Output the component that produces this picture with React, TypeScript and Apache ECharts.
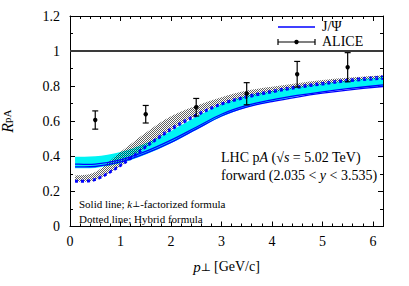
import React, { useEffect, useRef } from "react";
import * as echarts from "echarts";

// ---- data ----
const bandX = [0.1, 0.5, 1.0, 1.5, 2.0, 2.5, 3.0, 3.5, 4.0, 4.5, 5.0, 5.5, 6.2];
// k_perp-factorized (cyan band)
const cyanLow = [0.332, 0.334, 0.36, 0.41, 0.474, 0.55, 0.625, 0.678, 0.713, 0.743, 0.765, 0.785, 0.8];
const cyanHigh = [0.398, 0.4, 0.425, 0.475, 0.545, 0.625, 0.697, 0.745, 0.772, 0.796, 0.815, 0.832, 0.852];
const solidA = [0.356, 0.356, 0.38, 0.428, 0.492, 0.566, 0.64, 0.69, 0.722, 0.747, 0.768, 0.786, 0.807];
const solidB = [0.34, 0.342, 0.368, 0.417, 0.48, 0.555, 0.63, 0.68, 0.712, 0.738, 0.76, 0.778, 0.798];
// hybrid (hatched band)
const hatchLow = [0.255, 0.265, 0.345, 0.45, 0.55, 0.63, 0.695, 0.735, 0.765, 0.79, 0.81, 0.828, 0.845];
const hatchHigh = [0.29, 0.31, 0.425, 0.535, 0.628, 0.688, 0.737, 0.775, 0.797, 0.817, 0.835, 0.848, 0.862];
const dashA = [0.255, 0.265, 0.345, 0.45, 0.55, 0.63, 0.695, 0.735, 0.765, 0.79, 0.81, 0.828, 0.842];
const dashB = [0.262, 0.272, 0.353, 0.46, 0.56, 0.64, 0.703, 0.745, 0.775, 0.8, 0.82, 0.838, 0.857];
// ALICE data
const aliceX = [0.5, 1.5, 2.5, 3.5, 4.5, 5.5];
const aliceY = [0.607, 0.64, 0.68, 0.757, 0.868, 0.908];
const aliceErr = [0.052, 0.05, 0.05, 0.063, 0.073, 0.083];
// axes
const xMin = 0, xMax = 6.2, xStep = 1;
const yMin = 0, yMax = 1.2, yStep = 0.2;
const refLine = 1;

const FONT = "Liberation Serif, DejaVu Serif, serif";

// Catmull-Rom -> cubic bezier path through screen points
function curvePath(pts: number[][], move: boolean) {
  let d = move ? `M${pts[0][0]},${pts[0][1]}` : `L${pts[0][0]},${pts[0][1]}`;
  for (let i = 0; i < pts.length - 1; i++) {
    const p0 = pts[i - 1] || pts[i];
    const p1 = pts[i];
    const p2 = pts[i + 1];
    const p3 = pts[i + 2] || p2;
    const c1x = p1[0] + (p2[0] - p0[0]) / 6;
    const c1y = p1[1] + (p2[1] - p0[1]) / 6;
    const c2x = p2[0] - (p3[0] - p1[0]) / 6;
    const c2y = p2[1] - (p3[1] - p1[1]) / 6;
    d += `C${c1x},${c1y},${c2x},${c2y},${p2[0]},${p2[1]}`;
  }
  return d;
}

function bandSeries(lo: number[], hi: number[], style: any, z: number) {
  return {
    type: "custom",
    data: [[bandX[0], lo[0]]],
    clip: true,
    z,
    renderItem: (_p: any, api: any) => {
      const up = bandX.map((x, i) => api.coord([x, hi[i]]));
      const dn = bandX.map((x, i) => api.coord([x, lo[i]])).reverse();
      const d = curvePath(up, true) + curvePath(dn, false) + "Z";
      return { type: "path", shape: { pathData: d }, style };
    },
  };
}

function lineSeries(ys: number[], style: any, z: number) {
  return {
    type: "custom",
    data: [[bandX[0], ys[0]]],
    clip: true,
    z,
    renderItem: (_p: any, api: any) => {
      const pts = bandX.map((x, i) => api.coord([x, ys[i]]));
      return { type: "path", shape: { pathData: curvePath(pts, true) }, style: { fill: "none", ...style } };
    },
  };
}

function makePattern() {
  const c = document.createElement("canvas");
  c.width = 2;
  c.height = 2;
  const ctx = c.getContext("2d")!;
  ctx.clearRect(0, 0, 2, 2);
  ctx.fillStyle = "rgba(0,0,0,0.62)";
  ctx.fillRect(0, 0, 1, 1);
  ctx.fillRect(1, 1, 1, 1);
  ctx.fillStyle = "rgba(255,255,255,0.35)";
  ctx.fillRect(1, 0, 1, 1);
  return c;
}

export default function App() {
  const ref = useRef<HTMLDivElement>(null);
  useEffect(() => {
    if (!ref.current) return;
    const chart = echarts.init(ref.current, null, { renderer: "svg" });
    const pattern = makePattern();
    const axisCommon = {
      axisLine: { show: true, onZero: false, lineStyle: { color: "#000", width: 1 } },
      axisTick: { show: true, inside: true, length: 5, lineStyle: { color: "#000" } },
      minorTick: { show: true, length: 3, lineStyle: { color: "#000" } },
      splitLine: { show: false },
    };
    chart.setOption({
      animation: false,
      textStyle: { fontFamily: FONT },
      grid: { left: 70, right: 26, top: 16, bottom: 59.5, containLabel: false, outerBoundsMode: "none" },
      xAxis: [
        {
          type: "value",
          min: xMin,
          max: xMax,
          interval: xStep,
          position: "bottom",
          ...axisCommon,
          minorTick: { ...axisCommon.minorTick, splitNumber: 5 },
          axisLabel: {
            color: "#000",
            fontFamily: FONT,
            fontSize: 14,
            margin: 8,
            formatter: (v: number) => (Number.isInteger(v) ? String(v) : ""),
          },
          name: "{i|p}{s|⊥} {n|[GeV/c]}",
          nameLocation: "middle",
          nameGap: 30,
          nameTextStyle: {
            rich: {
              i: { fontFamily: FONT, fontSize: 15, fontStyle: "italic", color: "#000", lineHeight: 20, verticalAlign: "middle" },
              s: { fontFamily: FONT, fontSize: 11, color: "#000", lineHeight: 20, height: 20, verticalAlign: "bottom" },
              n: { fontFamily: FONT, fontSize: 14, color: "#000", lineHeight: 20, verticalAlign: "middle" },
            },
          },
        },
        {
          type: "value",
          min: xMin,
          max: xMax,
          interval: xStep,
          position: "top",
          ...axisCommon,
          minorTick: { ...axisCommon.minorTick, splitNumber: 5 },
          axisLabel: { show: false },
        },
      ],
      yAxis: [
        {
          type: "value",
          min: yMin,
          max: yMax,
          interval: yStep,
          position: "left",
          ...axisCommon,
          minorTick: { ...axisCommon.minorTick, splitNumber: 2 },
          axisLabel: { color: "#000", fontFamily: FONT, fontSize: 14, margin: 10 },
          name: "{i|R}{s|pA}",
          nameLocation: "middle",
          nameRotate: 90,
          nameGap: 52,
          nameTextStyle: {
            rich: {
              i: { fontFamily: FONT, fontSize: 16, fontStyle: "italic", color: "#000", lineHeight: 22, verticalAlign: "middle" },
              s: { fontFamily: FONT, fontSize: 11, color: "#000", lineHeight: 22, height: 22, verticalAlign: "bottom" },
            },
          },
        },
        {
          type: "value",
          min: yMin,
          max: yMax,
          interval: yStep,
          position: "right",
          ...axisCommon,
          minorTick: { ...axisCommon.minorTick, splitNumber: 2 },
          axisLabel: { show: false },
        },
      ],
      series: [
        bandSeries(cyanLow, cyanHigh, { fill: "#00f4f4" }, 1),
        bandSeries(hatchLow, hatchHigh, { fill: { image: pattern, repeat: "repeat" } }, 2),
        lineSeries(solidA, { stroke: "#0000ff", lineWidth: 1.3 }, 3),
        lineSeries(solidB, { stroke: "#0000ff", lineWidth: 1.3 }, 3),
        lineSeries(dashA, { stroke: "#0000ff", lineWidth: 2, lineDash: [3, 3] }, 4),
        lineSeries(dashB, { stroke: "#0000ff", lineWidth: 1.5, lineDash: [3, 3] }, 4),
        {
          type: "line",
          name: "ref",
          data: [],
          markLine: {
            silent: true,
            symbol: "none",
            label: { show: false },
            lineStyle: { color: "#3a3a3a", width: 2, type: "solid" },
            data: [{ yAxis: refLine }],
          },
        },
        {
          type: "custom",
          name: "ALICE",
          data: aliceX.map((x, i) => [x, aliceY[i], aliceErr[i]]),
          renderItem: (_params: any, api: any) => {
            const x = api.value(0);
            const y = api.value(1);
            const e = api.value(2);
            const p = api.coord([x, y]);
            const lo = api.coord([x, y - e]);
            const hi = api.coord([x, y + e]);
            const stroke = { stroke: "#000", lineWidth: 1.2 };
            return {
              type: "group",
              children: [
                { type: "line", shape: { x1: lo[0], y1: lo[1], x2: hi[0], y2: hi[1] }, style: stroke },
                { type: "line", shape: { x1: lo[0] - 3, y1: lo[1], x2: lo[0] + 3, y2: lo[1] }, style: stroke },
                { type: "line", shape: { x1: hi[0] - 3, y1: hi[1], x2: hi[0] + 3, y2: hi[1] }, style: stroke },
                { type: "circle", shape: { cx: p[0], cy: p[1], r: 2.2 }, style: { fill: "#000" } },
              ],
            };
          },
          z: 5,
        },
      ],
      graphic: [
        // legend
        { type: "line", shape: { x1: 278, y1: 27, x2: 315, y2: 27 }, style: { stroke: "#0000ff", lineWidth: 1.3 } },
        { type: "text", left: 322, top: 19, style: { text: "J/Ψ", fontFamily: FONT, fontSize: 14, fill: "#000" } },
        { type: "line", shape: { x1: 278, y1: 42, x2: 315, y2: 42 }, style: { stroke: "#000", lineWidth: 1.2 } },
        { type: "line", shape: { x1: 278, y1: 39, x2: 278, y2: 45 }, style: { stroke: "#000", lineWidth: 1.2 } },
        { type: "line", shape: { x1: 315, y1: 39, x2: 315, y2: 45 }, style: { stroke: "#000", lineWidth: 1.2 } },
        { type: "circle", shape: { cx: 296.5, cy: 42, r: 2.2 }, style: { fill: "#000" } },
        { type: "text", left: 322, top: 34, style: { text: "ALICE", fontFamily: FONT, fontSize: 14, fill: "#000" } },
        // annotations
        {
          type: "text",
          left: 221,
          top: 148,
          style: {
            text: "LHC p{i|A} (√{i|s} = 5.02 TeV)\nforward (2.035 < {i|y} < 3.535)",
            fontFamily: FONT,
            fontSize: 14,
            fill: "#000",
            lineHeight: 18,
            rich: { i: { fontStyle: "italic", fontFamily: FONT, fontSize: 14, fill: "#000", lineHeight: 18 } },
          },
        },
        {
          type: "text",
          left: 79,
          top: 196,
          style: {
            text: "Solid line; {i|k}{s|⊥}-factorized formula",
            fontFamily: FONT,
            fontSize: 11,
            fill: "#000",
            lineHeight: 15,
            rich: {
              i: { fontStyle: "italic", fontFamily: FONT, fontSize: 11, fill: "#000", lineHeight: 15, verticalAlign: "middle" },
              s: { fontFamily: FONT, fontSize: 8.5, fill: "#000", lineHeight: 15, height: 15, verticalAlign: "bottom" },
            },
          },
        },
        {
          type: "text",
          left: 79,
          top: 211,
          style: { text: "Dotted line; Hybrid formula", fontFamily: FONT, fontSize: 11, fill: "#000", lineHeight: 15 },
        },
      ],
    });
    return () => chart.dispose();
  }, []);
  return (
    <div
      ref={ref}
      style={{ position: "fixed", left: 0, top: 0, width: 409, height: 286, background: "#fff" }}
    />
  );
}
